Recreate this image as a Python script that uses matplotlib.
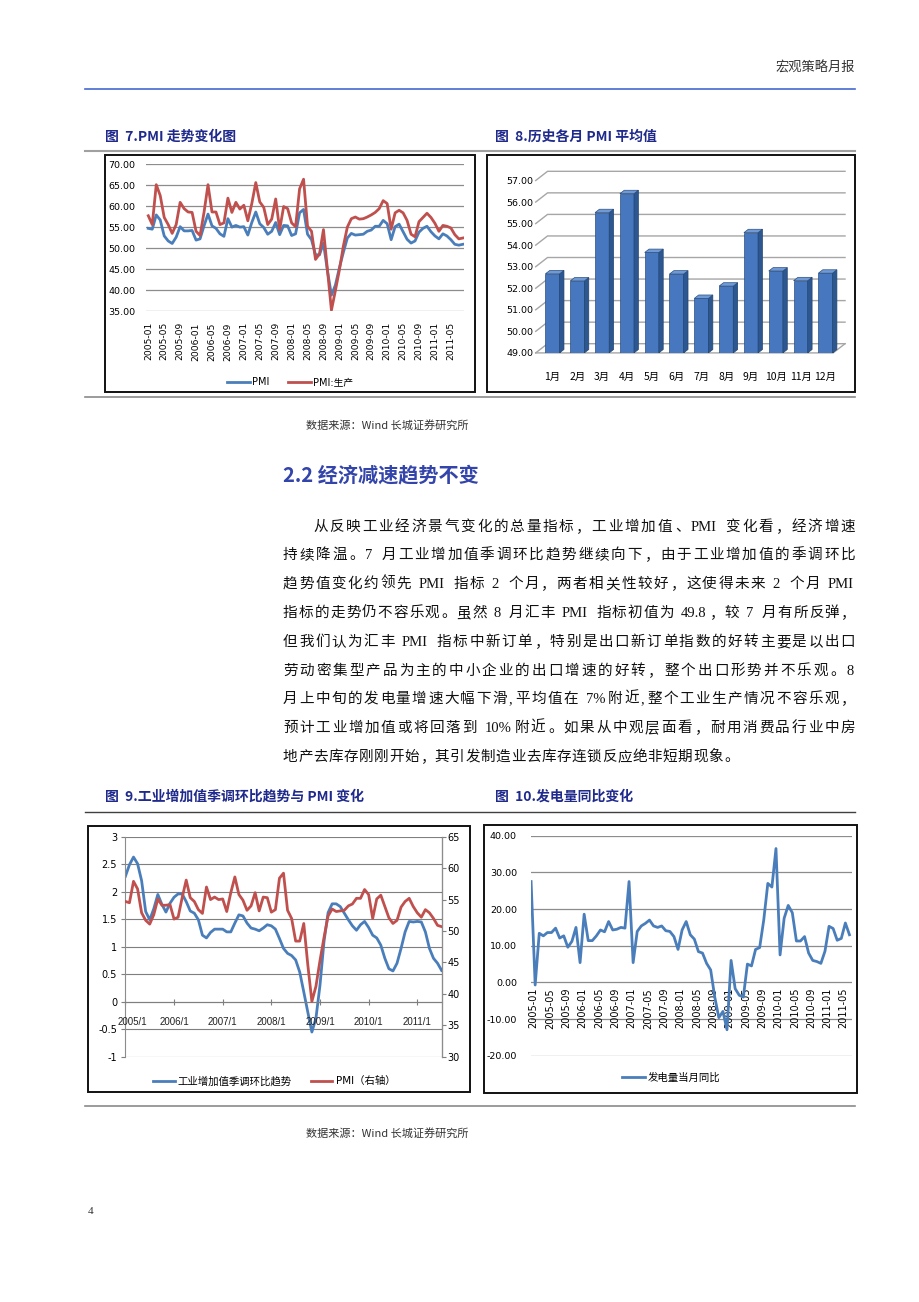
import re
import matplotlib
matplotlib.use('Agg')
import matplotlib.pyplot as plt
from matplotlib.patches import Rectangle, Polygon

plt.rcParams['font.family'] = ['DejaVu Sans', 'Noto Sans CJK SC']
CJK = ['Noto Sans CJK SC', 'DejaVu Sans']

# ---------------- data ----------------
pmi = [54.7, 54.5, 57.9, 56.7, 52.9, 51.7, 51.1, 52.6, 55.1, 54.1, 54.1, 54.2,
       51.9, 52.2, 55.3, 58.1, 55.3, 54.7, 53.4, 52.8, 57.0, 55.0, 55.4, 55.0,
       55.1, 53.1, 56.1, 58.6, 55.8, 54.9, 53.3, 54.0, 56.1, 53.2, 55.4, 55.3,
       53.0, 53.4, 58.4, 59.2, 53.3, 52.0, 48.4, 48.4, 51.2, 44.6, 38.8, 41.2,
       45.3, 49.0, 52.4, 53.5, 53.1, 53.2, 53.3, 54.0, 54.3, 55.2, 55.2, 56.6,
       55.8, 52.0, 55.1, 55.7, 53.9, 52.1, 51.2, 51.7, 53.8, 54.7, 55.2, 53.9,
       52.9, 52.2, 53.4, 52.9, 52.0, 50.9, 50.7, 50.9]
pmi_prod = [57.7, 55.6, 65.1, 62.5, 57.3, 55.6, 53.5, 55.6, 60.9, 59.4, 58.6, 58.5,
            54.0, 53.0, 58.5, 65.1, 58.6, 58.6, 55.6, 56.0, 61.9, 58.5, 60.9, 59.3,
            60.2, 56.5, 60.6, 65.6, 61.0, 59.7, 55.6, 56.9, 61.7, 54.4, 59.9, 59.4,
            56.0, 55.1, 64.1, 66.4, 55.2, 54.0, 47.3, 48.6, 54.4, 44.8, 35.2, 39.9,
            44.8, 50.5, 55.0, 57.0, 57.4, 56.9, 57.0, 57.4, 57.9, 58.5, 59.4, 61.3,
            60.6, 54.5, 58.4, 59.0, 58.4, 56.6, 53.3, 52.7, 56.3, 57.3, 58.3, 57.3,
            55.9, 54.0, 55.4, 55.2, 54.8, 53.2, 52.2, 52.4]

month_names = ['1月', '2月', '3月', '4月', '5月', '6月', '7月', '8月', '9月', '10月', '11月', '12月']
month_avg = [52.67, 52.34, 55.51, 56.39, 53.66, 52.66, 51.53, 52.10, 54.58, 52.80, 52.35, 52.70]

ip_trend = [2.28, 2.49, 2.63, 2.51, 2.20, 1.64, 1.49, 1.69, 1.95, 1.77, 1.63, 1.79,
            1.90, 1.96, 1.96, 1.82, 1.65, 1.61, 1.49, 1.21, 1.16, 1.26, 1.32, 1.32,
            1.32, 1.27, 1.27, 1.43, 1.58, 1.56, 1.43, 1.34, 1.32, 1.29, 1.34, 1.40,
            1.38, 1.32, 1.15, 0.97, 0.88, 0.84, 0.76, 0.54, 0.18, -0.19, -0.55, -0.30,
            0.30, 1.10, 1.62, 1.78, 1.78, 1.73, 1.61, 1.49, 1.38, 1.30, 1.40, 1.46,
            1.35, 1.21, 1.16, 1.03, 0.79, 0.60, 0.56, 0.70, 0.97, 1.27, 1.46, 1.45,
            1.46, 1.45, 1.27, 0.97, 0.79, 0.70, 0.57]
pmi_right = pmi[:79]
year_labels = ['2005/1', '2006/1', '2007/1', '2008/1', '2009/1', '2010/1', '2011/1']

power_yoy = [27.5, -0.7, 13.4, 12.7, 13.6, 13.6, 14.8, 12.1, 12.7, 9.6, 11.2, 15.0,
             5.4, 18.6, 11.4, 11.4, 12.7, 14.3, 13.8, 16.6, 14.3, 14.5, 15.0, 14.8,
             27.5, 5.4, 13.9, 15.4, 16.1, 17.0, 15.4, 15.0, 15.4, 14.1, 13.9, 12.5,
             9.0, 14.3, 16.6, 13.0, 11.8, 8.4, 8.0, 5.2, 3.4, -4.0, -9.6, -7.9,
             -12.9, 6.0, -1.7, -3.5, -4.0, 5.0, 4.5, 9.0, 9.5, 17.0, 27.0, 26.0,
             36.5, 7.5, 17.5, 21.0, 19.0, 11.3, 11.3, 12.5, 8.0, 6.0, 5.7, 5.2,
             8.5, 15.3, 14.7, 11.5, 12.0, 16.2, 13.0]

body_lines = [
    '从反映工业经济景气变化的总量指标，工业增加值、PMI 变化看，经济增速',
    '持续降温。7 月工业增加值季调环比趋势继续向下，由于工业增加值的季调环比',
    '趋势值变化约领先 PMI 指标 2 个月，两者相关性较好，这使得未来 2 个月 PMI',
    '指标的走势仍不容乐观。虽然 8 月汇丰 PMI 指标初值为 49.8，较 7 月有所反弹，',
    '但我们认为汇丰 PMI 指标中新订单，特别是出口新订单指数的好转主要是以出口',
    '劳动密集型产品为主的中小企业的出口增速的好转，整个出口形势并不乐观。8',
    '月上中旬的发电量增速大幅下滑,平均值在 7%附近,整个工业生产情况不容乐观，',
    '预计工业增加值或将回落到 10%附近。如果从中观层面看，耐用消费品行业中房',
    '地产去库存刚刚开始，其引发制造业去库存连锁反应绝非短期现象。',
]


def ym(i, sep='-'):
    return f"{2005 + i // 12}{sep}{i % 12 + 1:02d}"


BLUE = '#4A7EBB'
RED = '#C0504D'
GRID = '#8C8C8C'
NAVY = '#1F2A8C'

W, H = 920, 1302
fig = plt.figure(figsize=(W / 100, H / 100), dpi=100)
pg = fig.add_axes([0, 0, 1, 1])
pg.set_xlim(0, W)
pg.set_ylim(H, 0)
pg.axis('off')


def box_axes(x0, y0, x1, y1):
    return fig.add_axes([x0 / W, 1 - y1 / H, (x1 - x0) / W, (y1 - y0) / H])


def fpos(x, y):
    return (x / W, 1 - y / H)


# ---------------- page furniture ----------------
pg.text(855, 68, '宏观策略月报', ha='right', va='center', fontsize=9.5, color='#333333', family=CJK)
pg.plot([85, 855], [89, 89], color='#4468D0', lw=1.2)
pg.text(105, 137, '图  7.PMI 走势变化图', fontsize=10, weight='bold', color=NAVY, va='center', family=CJK)
pg.text(495, 137, '图  8.历史各月 PMI 平均值', fontsize=10, weight='bold', color=NAVY, va='center', family=CJK)
pg.plot([85, 855], [151, 151], color='#A0A0A0', lw=1.5)
pg.plot([85, 855], [397, 397], color='#8A8A8A', lw=1.2)
pg.text(306, 425, '数据来源：Wind 长城证券研究所', fontsize=8, color='#333333', va='center', family=CJK)
pg.text(283, 475, '2.2 经济减速趋势不变', fontsize=14.5, weight='bold', color='#3344AA', va='center', family=CJK)
pg.text(105, 797, '图  9.工业增加值季调环比趋势与 PMI 变化', fontsize=10, weight='bold', color=NAVY, va='center', family=CJK)
pg.text(495, 797, '图  10.发电量同比变化', fontsize=10, weight='bold', color=NAVY, va='center', family=CJK)
pg.plot([85, 855], [812, 812], color='#404040', lw=1.0)
pg.plot([85, 855], [1106, 1106], color='#8A8A8A', lw=1.2)
pg.text(306, 1133, '数据来源：Wind 长城证券研究所', fontsize=8, color='#333333', va='center', family=CJK)
pg.text(88, 1211, '4', fontsize=8, color='#333333', va='center', family='Liberation Serif')

for (x0, y0, x1, y1) in [(105, 155, 475, 392), (487, 155, 855, 392),
                         (88, 826, 470, 1092), (484, 825, 857, 1093)]:
    pg.add_patch(Rectangle((x0, y0), x1 - x0, y1 - y0, fill=False, ec='#111111', lw=1.4))

# ---------------- body paragraph (justified) ----------------
renderer = fig.canvas.get_renderer()
fs_body = 10.5
em = fs_body * 100 / 72
line_y = [526, 554, 583, 612, 641, 670, 698, 727, 756]


def ascii_w(s):
    t = pg.text(0, 0, s, fontsize=fs_body, family='Liberation Serif')
    w = t.get_window_extent(renderer).width
    t.remove()
    return w


for k, (line, y) in enumerate(zip(body_lines, line_y)):
    x0 = 283 + (30 if k == 0 else 0)
    toks = re.findall(r'[A-Za-z0-9.%,]+| |.', line)
    ws = []
    for t in toks:
        if t == ' ':
            ws.append(em * 0.3)
        elif t.isascii():
            ws.append(ascii_w(t) + 1.5)
        else:
            ws.append(em)
    gap = 0.6 if k == len(body_lines) - 1 else (855 - x0 - sum(ws)) / (len(toks) - 1)
    x = x0
    base = y + 5
    for t, w in zip(toks, ws):
        if t != ' ':
            if t.isascii():
                pg.text(x, base, t, fontsize=fs_body, family='Liberation Serif', ha='left', va='baseline', color='#111111')
            elif t in '，。、；：':
                pg.text(x + 1, base, t, fontsize=fs_body, family=CJK, ha='left', va='baseline', color='#111111')
            else:
                pg.text(x + w / 2, base, t, fontsize=fs_body, family=CJK, ha='center', va='baseline', color='#111111')
        x += w + gap

# ---------------- chart 1: PMI lines ----------------
ax1 = box_axes(145.9, 164.1, 464.4, 311.1)
n1 = len(pmi)
l1, = ax1.plot(range(n1), pmi, color=BLUE, lw=2.0, label='PMI')
l2, = ax1.plot(range(n1), pmi_prod, color=RED, lw=2.0, label='PMI:生产')
ax1.set_xlim(-0.6, 79.4)
ax1.set_ylim(35, 70)
ax1.set_yticks(range(35, 71, 5))
ax1.set_yticklabels([f'{v:.2f}' for v in range(35, 71, 5)], fontsize=6.8)
ax1.set_xticks(range(0, n1, 4))
ax1.set_xticklabels([ym(i) for i in range(0, n1, 4)], rotation=90, fontsize=6.6)
ax1.yaxis.grid(True, color=GRID, lw=0.9)
ax1.set_axisbelow(True)
for s in ax1.spines.values():
    s.set_visible(False)
ax1.tick_params(axis='y', length=0, pad=7.5)
ax1.tick_params(axis='x', length=0, pad=8)
ax1.patch.set_alpha(0)
fig.legend(handles=[l1, l2], loc='center', bbox_to_anchor=fpos(290, 382), ncol=2, frameon=False,
           fontsize=7, handlelength=2.3, columnspacing=2.0, handletextpad=0.2)

# ---------------- chart 2: 3D-looking bars ----------------
ax2 = box_axes(535, 165, 850, 352.9)
ax2.set_xlim(-0.705, 11.99)
ax2.set_ylim(49, 57.72)
xl, xb, xr = -0.677, -0.20, 11.79
dyw = 0.427
for v in range(49, 58):
    ax2.plot([xl, xb, xr], [v, v + dyw, v + dyw], color='#A6A6A6', lw=1.0, zorder=1, clip_on=False)
ax2.plot([xl, xr - (xb - xl), xr], [49, 49, 49 + dyw], color='#A6A6A6', lw=1.0, zorder=1, clip_on=False)
bw = 0.57
ddx, ddy = 0.177, 0.158
xs = range(len(month_avg))
ax2.bar(xs, [v - 49 for v in month_avg], bottom=49, width=bw, color='#4677BF',
        edgecolor='#2A4E80', lw=0.5, zorder=3)
for x, v in zip(xs, month_avg):
    ax2.add_patch(Polygon([(x + bw / 2, 49), (x + bw / 2 + ddx, 49 + ddy), (x + bw / 2 + ddx, v + ddy), (x + bw / 2, v)],
                          closed=True, fc='#2D5791', ec='#22446F', lw=0.5, zorder=3))
    ax2.add_patch(Polygon([(x - bw / 2, v), (x + bw / 2, v), (x + bw / 2 + ddx, v + ddy), (x - bw / 2 + ddx, v + ddy)],
                          closed=True, fc='#6F9AD6', ec='#2A4E80', lw=0.5, zorder=3))
ax2.set_yticks(range(49, 58))
ax2.set_yticklabels([f'{v:.2f}' for v in range(49, 58)], fontsize=6.8)
ax2.set_xticks(list(xs))
ax2.set_xticklabels(month_names, fontsize=7.5, family=CJK)
for s in ax2.spines.values():
    s.set_visible(False)
ax2.tick_params(axis='y', length=0, pad=1)
ax2.tick_params(axis='x', length=0, pad=14)
ax2.patch.set_alpha(0)

# ---------------- chart 3: IP trend vs PMI ----------------
ax3 = box_axes(125.4, 836.7, 441.6, 1056.8)
ax3r = ax3.twinx()
n3 = len(ip_trend)
b3, = ax3.plot(range(n3), ip_trend, color=BLUE, lw=2.0, label='工业增加值季调环比趋势')
r3, = ax3r.plot(range(n3), pmi_right, color=RED, lw=2.0, label='PMI（右轴）')
ax3.set_xlim(0, 78)
ax3.set_ylim(-1, 3)
ax3r.set_ylim(30, 65)
ax3.set_yticks([-1, -0.5, 0, 0.5, 1, 1.5, 2, 2.5, 3])
ax3.set_yticklabels(['-1', '-0.5', '0', '0.5', '1', '1.5', '2', '2.5', '3'], fontsize=7)
ax3r.set_yticks(range(30, 66, 5))
ax3r.set_yticklabels([str(v) for v in range(30, 66, 5)], fontsize=7)
ax3.yaxis.grid(True, color='#7F7F7F', lw=0.8)
ax3.set_axisbelow(True)
year_pos = list(range(0, 73, 12))
ax3.set_xticks(year_pos)
ax3.set_xticklabels([])
for j, (p, lab) in enumerate(zip(year_pos, year_labels)):
    ax3.text(p + (1.6 if j == 0 else 0), -0.37, lab, ha='center', va='center',
             fontsize=7, family='Liberation Sans', color='#222222')
ax3.spines['bottom'].set_position(('data', 0))
ax3.spines['bottom'].set_color('#7F7F7F')
ax3.spines['top'].set_visible(False)
ax3r.spines['top'].set_visible(False)
ax3r.spines['bottom'].set_visible(False)
ax3.spines['left'].set_color('#8C8C8C')
ax3r.spines['right'].set_color('#8C8C8C')
ax3r.spines['left'].set_visible(False)
ax3.tick_params(axis='x', direction='inout', length=5, color='#7F7F7F')
ax3.tick_params(axis='y', length=3, color='#7F7F7F', pad=3)
ax3r.tick_params(axis='y', length=3, color='#7F7F7F', pad=1)
ax3.patch.set_alpha(0)
fig.legend(handles=[b3, r3], loc='center', bbox_to_anchor=fpos(274, 1081), ncol=2, frameon=False,
           fontsize=7.5, handlelength=2.1, columnspacing=1.8, handletextpad=0.3)

# ---------------- chart 4: power generation yoy ----------------
ax4 = box_axes(530.8, 835.7, 851.9, 1055.8)
n4 = len(power_yoy)
p4, = ax4.plot(range(n4), power_yoy, color=BLUE, lw=2.0, label='发电量当月同比')
ax4.set_xlim(-0.07, 78.6)
ax4.set_ylim(-20, 40)
ax4.set_yticks(range(-20, 41, 10))
ax4.set_yticklabels([f'{v:.2f}' for v in range(-20, 41, 10)], fontsize=6.8)
ax4.yaxis.grid(True, color=GRID, lw=0.9)
ax4.set_axisbelow(True)
ax4.set_xticks([])
for i in range(0, n4, 4):
    ax4.text(i + 0.6, -1.5, ym(i), rotation=90, ha='center', va='top', fontsize=7, zorder=1)
for s in ax4.spines.values():
    s.set_visible(False)
ax4.tick_params(axis='y', length=0, pad=10)
ax4.patch.set_alpha(0)
fig.legend(handles=[p4], loc='center', bbox_to_anchor=fpos(671, 1078), frameon=False,
           fontsize=7.5, handlelength=2.2, handletextpad=0.3)

fig.savefig('out.png', dpi=100)
